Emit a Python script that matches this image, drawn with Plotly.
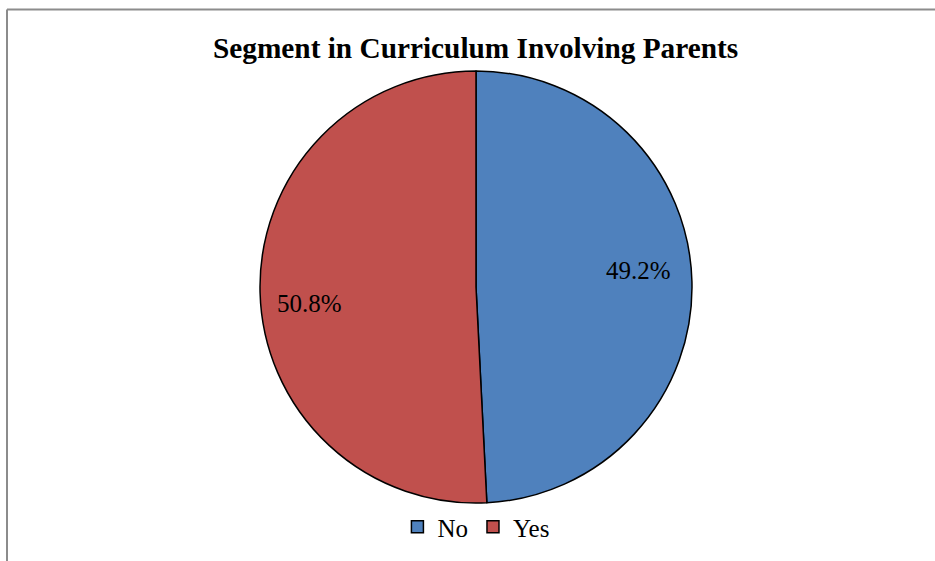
import math
import plotly.graph_objects as go

labels = ["No", "Yes"]
values = [49.2, 50.8]
colors = ["#4F81BD", "#C0504D"]
title_text = "Segment in Curriculum Involving Parents"

W, H = 935, 561
cx, cy, R = 476, 287, 216

fig = go.Figure()
fig.add_trace(go.Pie(
    labels=labels, values=values, sort=False, direction="clockwise", rotation=0,
    marker=dict(colors=colors, line=dict(color="black", width=1.5)),
    textinfo="none", hoverinfo="label+percent",
    domain=dict(x=[(cx - R) / W, (cx + R) / W], y=[1 - (cy + R) / H, 1 - (cy - R) / H]),
))

# data labels placed from slice mid-angles
total = sum(values)
cum = 0
annotations = []
for lab, v in zip(labels, values):
    mid = (cum + v / 2) / total * 2 * math.pi
    cum += v
    px = cx + 0.76 * R * math.sin(mid) - 2
    py = cy - 0.76 * R * math.cos(mid)
    py += -12 if math.sin(mid) > 0 else 12
    annotations.append(dict(
        x=px / W, y=1 - py / H, xref="paper", yref="paper",
        xanchor="center", yanchor="middle",
        text=f"{v:.1f}%", showarrow=False,
        font=dict(family="Liberation Serif", size=25, color="black"),
    ))

annotations.append(dict(
    x=476 / W, y=1 - 48 / H, xref="paper", yref="paper", text=f"<b>{title_text}</b>",
    xanchor="center", yanchor="middle",
    showarrow=False, font=dict(family="Liberation Serif", size=29.3, color="black"),
))

fig.update_layout(
    width=W, height=H, margin=dict(l=0, r=0, t=0, b=0),
    paper_bgcolor="white", plot_bgcolor="white",
    annotations=annotations,
    showlegend=True,
    legend=dict(orientation="h", x=0.509, xanchor="center", y=1 - 527 / H, yanchor="middle",
                font=dict(family="Liberation Serif", size=25, color="black"),
                itemwidth=30, tracegroupgap=0),
    shapes=[
        dict(type="line", xref="paper", yref="paper", x0=7 / W, x1=1, y0=1 - 9.5 / H, y1=1 - 9.5 / H,
             line=dict(color="#8c8c8c", width=2)),
        dict(type="line", xref="paper", yref="paper", x0=7 / W, x1=7 / W, y0=0, y1=1 - 9.5 / H,
             line=dict(color="#8c8c8c", width=2)),
    ],
)

fig.write_html("out.html")
